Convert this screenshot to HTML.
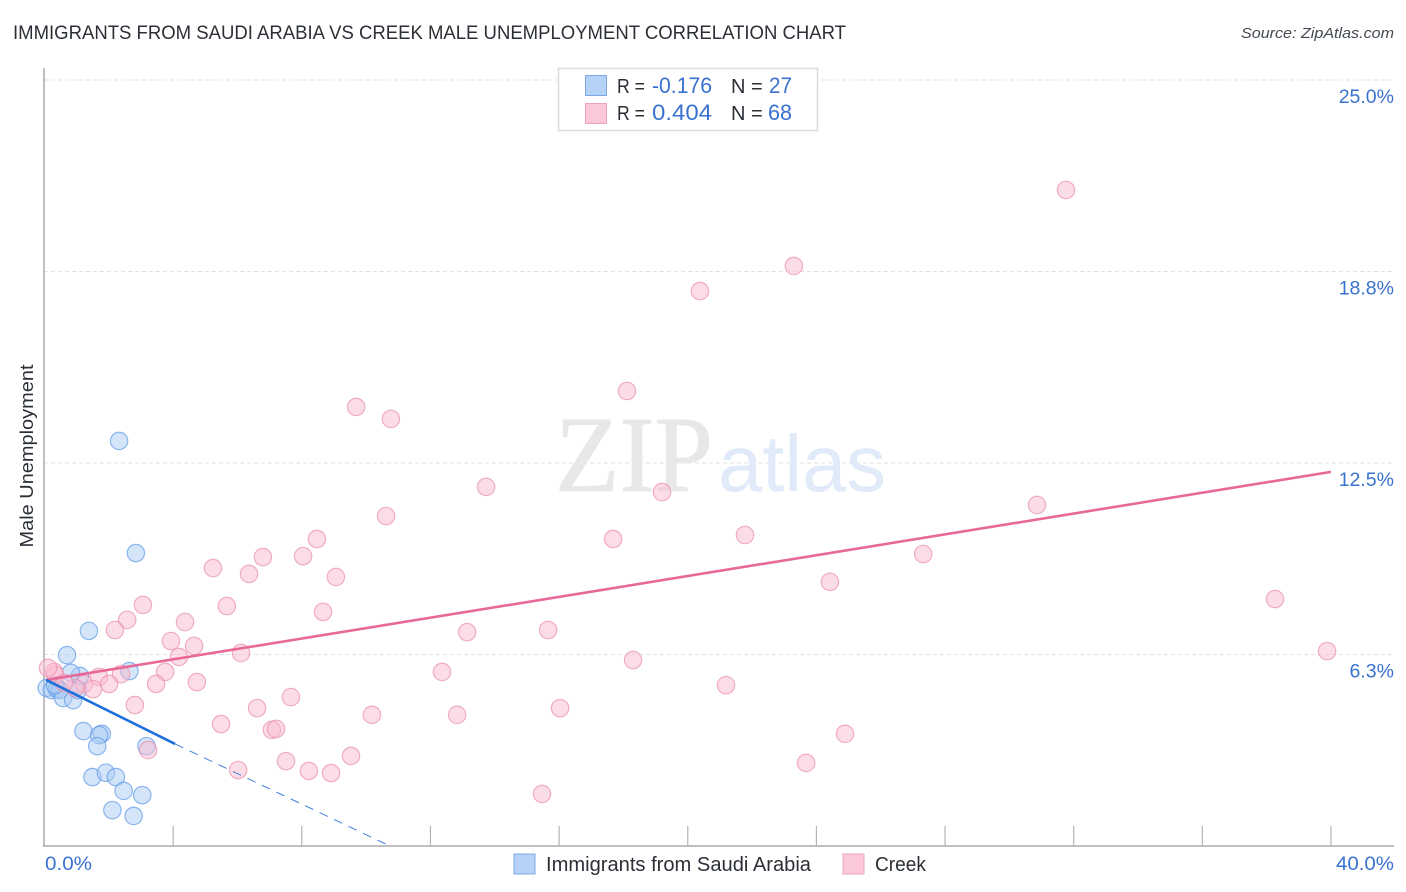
<!DOCTYPE html>
<html lang="en">
<head>
<meta charset="utf-8">
<title>Immigrants from Saudi Arabia vs Creek Male Unemployment Correlation Chart</title>
<style>
html,body{margin:0;padding:0;background:#fff;}
body{width:1406px;height:892px;overflow:hidden;}
svg{display:block;font-family:"Liberation Sans",sans-serif;}
</style>
</head>
<body>
<svg id="chart" width="1406" height="892" viewBox="0 0 1406 892" xmlns="http://www.w3.org/2000/svg">
  <rect x="0" y="0" width="1406" height="892" fill="#ffffff"/>
  <text x="13" y="39" font-size="19" fill="#2b2f36" textLength="833" lengthAdjust="spacingAndGlyphs">IMMIGRANTS FROM SAUDI ARABIA VS CREEK MALE UNEMPLOYMENT CORRELATION CHART</text>
  <text x="1394" y="38" font-size="15" font-style="italic" fill="#444a52" text-anchor="end" textLength="153" lengthAdjust="spacingAndGlyphs">Source: ZipAtlas.com</text>

  <g id="grid"></g>

  <g>
    <text x="555" y="491" font-family="'Liberation Serif',serif" font-size="108" fill="#e8e8e8" stroke="#e8e8e8" stroke-width="1" textLength="158" lengthAdjust="spacingAndGlyphs">ZIP</text>
    <text x="718" y="491" font-size="80" fill="#e1eaf8" textLength="168" lengthAdjust="spacingAndGlyphs">atlas</text>
  </g>

  <g id="axes"></g>
  <g id="points-blue"></g>
  <g id="points-pink"></g>
  <g id="trends"></g>
  <g id="labels"></g>

  <text transform="translate(33,456) rotate(-90)" font-size="18" fill="#2b2f36" text-anchor="middle" textLength="183" lengthAdjust="spacingAndGlyphs">Male Unemployment</text>

  <g>
    <rect x="558.5" y="68.5" width="259" height="62" fill="#ffffff" stroke="#dcdcdc" stroke-width="1.5"/>
    <rect x="585.5" y="75.5" width="21" height="20" fill="#b6d3f7" stroke="#7fa9e6" stroke-width="1"/>
    <rect x="585.5" y="103.5" width="21" height="20" fill="#fbc8d9" stroke="#eea3bb" stroke-width="1"/>
    <text x="617" y="93" font-size="20" fill="#2b2f36" textLength="28" lengthAdjust="spacingAndGlyphs">R =</text>
    <text x="652" y="93" font-size="22" fill="#3a72d0" textLength="60" lengthAdjust="spacingAndGlyphs">-0.176</text>
    <text x="731" y="93" font-size="20" fill="#2b2f36">N =</text>
    <text x="769" y="93" font-size="22" fill="#3a72d0" textLength="23" lengthAdjust="spacingAndGlyphs">27</text>
    <text x="617" y="120" font-size="20" fill="#2b2f36" textLength="28" lengthAdjust="spacingAndGlyphs">R =</text>
    <text x="652" y="120" font-size="22" fill="#3a72d0" textLength="60" lengthAdjust="spacingAndGlyphs">0.404</text>
    <text x="731" y="120" font-size="20" fill="#2b2f36">N =</text>
    <text x="768" y="120" font-size="22" fill="#3a72d0" textLength="24" lengthAdjust="spacingAndGlyphs">68</text>
  </g>

  <g>
    <rect x="514" y="854" width="21" height="20" fill="#b6d3f7" stroke="#7fa9e6" stroke-width="1"/>
    <text x="546" y="871" font-size="20" fill="#2b2f36" textLength="265" lengthAdjust="spacingAndGlyphs">Immigrants from Saudi Arabia</text>
    <rect x="843" y="854" width="21" height="20" fill="#fbc8d9" stroke="#eea3bb" stroke-width="1"/>
    <text x="875" y="871" font-size="20" fill="#2b2f36" textLength="51" lengthAdjust="spacingAndGlyphs">Creek</text>
  </g>
</svg>
<script>
const xTicks = [0,4,8,12,16,20,24,28,32,36,40];
const xTickLabels = ["0.0%","40.0%"];
const yTicks = [6.25,12.5,18.75,25];
const yTickLabels = ["6.3%","12.5%","18.8%","25.0%"];

const blueX = [2.32,2.84,1.38,0.70,2.64,1.10,0.82,0.07,0.23,0.39,0.48,0.58,0.89,1.04,1.21,1.78,1.70,1.64,3.17,1.49,1.91,2.22,2.46,3.04,2.11,2.77,0.33];
const blueY = [13.22,9.56,7.02,6.23,5.71,5.55,5.65,5.16,5.09,5.12,5.09,4.83,4.76,5.09,3.75,3.66,3.62,3.26,3.26,2.25,2.39,2.25,1.80,1.66,1.17,0.98,5.25];

const pinkX = [31.76,23.30,20.38,18.11,9.69,10.77,13.73,19.20,30.86,10.62,21.78,8.47,17.68,6.79,8.04,27.32,5.24,6.36,9.06,24.42,38.26,3.06,5.67,8.66,2.57,4.37,2.19,13.14,15.66,3.93,4.65,4.18,6.11,39.88,18.30,3.75,2.38,1.69,12.36,4.74,3.47,2.01,1.23,0.95,1.51,21.19,7.66,2.81,6.61,16.03,10.18,12.83,5.49,7.07,7.20,24.89,3.22,9.53,7.51,23.68,6.02,8.22,8.91,15.47,0.30,0.33,0.61,0.11];
const pinkY = [21.41,18.93,18.11,14.85,14.33,13.94,11.72,11.55,11.13,10.77,10.15,10.02,10.02,9.43,9.46,9.53,9.07,8.88,8.78,8.62,8.06,7.87,7.83,7.64,7.38,7.31,7.05,6.98,7.05,6.69,6.53,6.17,6.30,6.36,6.07,5.68,5.61,5.52,5.68,5.35,5.29,5.29,5.29,5.16,5.12,5.25,4.86,4.60,4.50,4.50,4.28,4.28,3.98,3.79,3.82,3.66,3.13,2.94,2.77,2.71,2.48,2.45,2.38,1.70,5.68,5.58,5.32,5.81];

const pinkTrendX = [0.05,40];
const pinkTrendY = [5.42,12.21];
const blueTrendX = [0.05,4.06];
const blueTrendY = [5.42,3.33];
const blueDashX = [4.06,10.74];
const blueDashY = [3.33,0];

const NS = "http://www.w3.org/2000/svg";
function xScale(v){ return 44.5 + v * 32.1625; }
function yScale(v){ return 846 - v * 30.64; }
function make(tag, attrs, parent){
  const el = document.createElementNS(NS, tag);
  for (const k in attrs) el.setAttribute(k, attrs[k]);
  parent.appendChild(el);
  return el;
}

const gridG = document.getElementById("grid");
const axesG = document.getElementById("axes");
const labelsG = document.getElementById("labels");

yTicks.forEach(function(t, i){
  const line = make("line", {x1:44, x2:1394, y1:yScale(t), y2:yScale(t), stroke:"#e2e2e2", "stroke-width":1, "stroke-dasharray":"4 3"}, gridG);
  
  
  const label = make("text", {x:1394, y:yScale(t)+23, "font-size":19.5, fill:"#3a72d0", "text-anchor":"end"}, labelsG);
  
  
  label.textContent = yTickLabels[i];
});

const yAxisLine = make("line", {x1:44, x2:44, y1:68, y2:846.5, stroke:"#aaaaaa", "stroke-width":1.5}, axesG);


const xAxisLine = make("line", {x1:43, x2:1394, y1:846, y2:846, stroke:"#aaaaaa", "stroke-width":1.5}, axesG);



xTicks.forEach(function(t){
  if (t === 0) return;
  const tick = make("line", {x1:xScale(t), x2:xScale(t), y1:826, y2:846, stroke:"#b4b4b4", "stroke-width":1.2}, axesG);
  
  
});

const xLabelFirst = make("text", {x:45, y:870, "font-size":19.5, fill:"#3a72d0", textLength:47, lengthAdjust:"spacingAndGlyphs"}, labelsG);


xLabelFirst.textContent = xTickLabels[0];
const xLabelLast = make("text", {x:1394, y:870, "font-size":19.5, fill:"#3a72d0", "text-anchor":"end", textLength:58, lengthAdjust:"spacingAndGlyphs"}, labelsG);


xLabelLast.textContent = xTickLabels[1];

const blueG = document.getElementById("points-blue");
blueX.forEach(function(v, i){
  const c = make("circle", {cx:xScale(v), cy:yScale(blueY[i]), r:8.7, fill:"#a9cbf4", "fill-opacity":0.5, stroke:"#5f9ae8", "stroke-opacity":0.7, "stroke-width":1.2}, blueG);
  
  
});

const pinkG = document.getElementById("points-pink");
pinkX.forEach(function(v, i){
  const c = make("circle", {cx:xScale(v), cy:yScale(pinkY[i]), r:8.7, fill:"#f9bcd0", "fill-opacity":0.5, stroke:"#ea8fae", "stroke-opacity":0.7, "stroke-width":1.2}, pinkG);
  
  
});

const trendG = document.getElementById("trends");
const pinkTrend = make("line", {x1:xScale(pinkTrendX[0]), y1:yScale(pinkTrendY[0]), x2:xScale(pinkTrendX[1]), y2:yScale(pinkTrendY[1]), stroke:"#e8689a", "stroke-width":2.6}, trendG);


const blueDash = make("line", {x1:xScale(blueDashX[0]), y1:yScale(blueDashY[0]), x2:xScale(blueDashX[1]), y2:yScale(blueDashY[1]), stroke:"#3f7fdc", "stroke-width":1, "stroke-dasharray":"9 7"}, trendG);


const blueTrend = make("line", {x1:xScale(blueTrendX[0]), y1:yScale(blueTrendY[0]), x2:xScale(blueTrendX[1]), y2:yScale(blueTrendY[1]), stroke:"#1f6fdc", "stroke-width":2.6}, trendG);


</script>
</body>
</html>
